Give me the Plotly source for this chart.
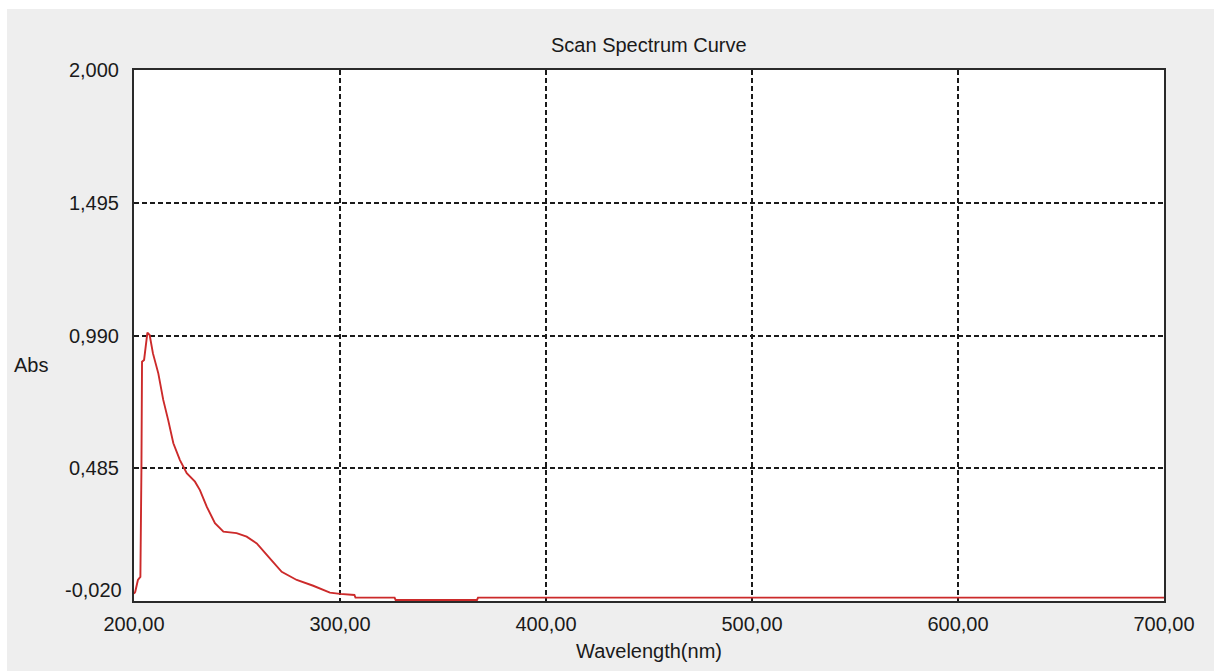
import plotly.graph_objects as go

# Scan spectrum: wavelength (nm) vs absorbance
wavelength = [200.0, 200.6, 201.9, 203.1, 203.6, 203.9, 204.9, 206.5, 207.6, 209.2,
              211.8, 214.2, 216.6, 219.1, 222.3, 225.6, 229.6, 232.0, 235.3, 239.3,
              243.4, 249.8, 254.7, 259.6, 265.2, 271.7, 279.0, 287.0, 295.1, 300.0,
              307.0, 307.5, 326.5, 327.0, 366.5, 367.0, 700.0]
absorbance = [0.008, 0.015, 0.060, 0.072, 0.478, 0.890, 0.897, 1.001, 0.992, 0.922,
              0.846, 0.745, 0.668, 0.580, 0.516, 0.466, 0.434, 0.402, 0.339, 0.276,
              0.244, 0.238, 0.225, 0.199, 0.149, 0.091, 0.060, 0.038, 0.012, 0.007,
              0.003, -0.007, -0.007, -0.016, -0.016, -0.007, -0.007]

x_ticks = [200, 300, 400, 500, 600, 700]
x_tick_text = ["200,00", "300,00", "400,00", "500,00", "600,00", "700,00"]
y_ticks = [-0.020, 0.485, 0.990, 1.495, 2.000]
y_tick_text = ["-0,020", "0,485", "0,990", "1,495", "2,000"]

W, H = 1214, 671
L, R, T, B = 134, 50, 70, 70
pw, ph = W - L - R, H - T - B

FONT = "Liberation Sans, Arial, sans-serif"
TXT = "#1a1a1a"
BG = "#eeeeee"

fig = go.Figure()
fig.add_trace(go.Scatter(
    x=wavelength, y=absorbance, mode="lines",
    line=dict(color="#cc2a2a", width=1.9),
    hoverinfo="skip", showlegend=False,
))

axis_common = dict(
    showline=True, mirror=True, linecolor="#2a2a2a", linewidth=2,
    showgrid=True, gridcolor="#1a1a1a", gridwidth=1.6, griddash="5px,3px",
    zeroline=False, ticks="",
    tickfont=dict(family=FONT, size=20, color=TXT),
)

fig.update_xaxes(
    range=[200, 700], tickmode="array", tickvals=x_ticks, ticktext=x_tick_text,
    ticklabelstandoff=4, **axis_common,
)
# the bottom y label is written separately so it can sit a little higher
fig.update_yaxes(
    range=[-0.020, 2.000], tickmode="array", tickvals=y_ticks,
    ticktext=[""] + y_tick_text[1:], ticklabelstandoff=9, **axis_common,
)


def px_x(p):
    return (p - L) / pw


def px_y(p):
    return (H - B - p) / ph


annotations = [
    dict(text="Scan Spectrum Curve", xref="paper", yref="paper",
         x=0.5, y=px_y(45), showarrow=False, xanchor="center", yanchor="middle",
         font=dict(family=FONT, size=20, color=TXT)),
    dict(text="Abs", xref="paper", yref="paper",
         x=px_x(12), y=px_y(365), showarrow=False, xanchor="left", yanchor="middle",
         font=dict(family=FONT, size=20, color=TXT)),
    dict(text="Wavelength(nm)", xref="paper", yref="paper",
         x=0.5, y=px_y(651), showarrow=False, xanchor="center", yanchor="middle",
         font=dict(family=FONT, size=20, color=TXT)),
    dict(text=y_tick_text[0], xref="paper", yref="y",
         x=px_x(124), y=y_ticks[0], yshift=11, showarrow=False,
         xanchor="right", yanchor="middle",
         font=dict(family=FONT, size=20, color=TXT)),
]

shapes = [
    # thin white strips along the top and left edges of the window
    dict(type="rect", xref="paper", yref="paper", layer="below",
         x0=px_x(0), x1=px_x(W), y0=px_y(9), y1=px_y(0),
         fillcolor="white", line=dict(width=0)),
    dict(type="rect", xref="paper", yref="paper", layer="below",
         x0=px_x(0), x1=px_x(7), y0=px_y(H), y1=px_y(0),
         fillcolor="white", line=dict(width=0)),
]

fig.update_layout(
    width=W, height=H,
    margin=dict(l=L, r=R, t=T, b=B),
    paper_bgcolor=BG, plot_bgcolor="white",
    annotations=annotations, shapes=shapes,
    showlegend=False,
)

fig.write_html("out.html", config={"displayModeBar": False})
